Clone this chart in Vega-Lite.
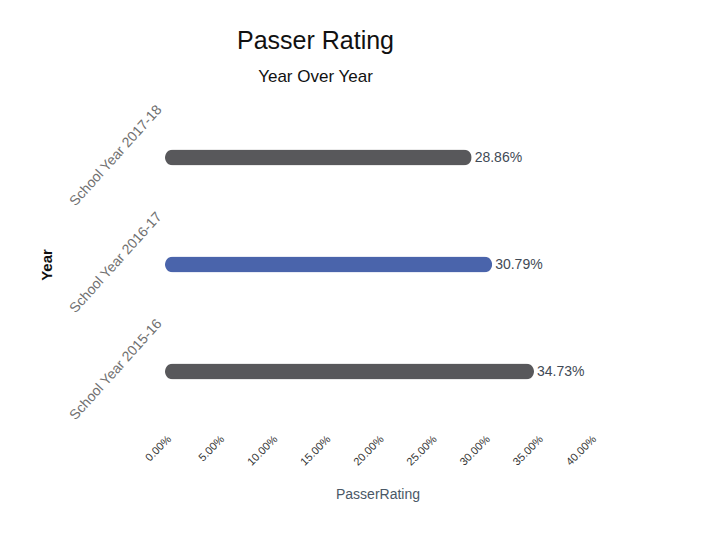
{
  "$schema": "https://vega.github.io/schema/vega-lite/v6.json",
  "width": 425,
  "height": 321,
  "autosize": {"type": "none"},
  "padding": {"left": 165, "top": 104, "right": 124, "bottom": 116},
  "background": "white",
  "view": {"stroke": null},
  "title": {
    "text": "Passer Rating",
    "subtitle": "Year Over Year",
    "anchor": "middle",
    "dx": -62,
    "offset": 17,
    "font": "Liberation Sans",
    "subtitleFont": "Liberation Sans",
    "fontSize": 25,
    "subtitleFontSize": 17,
    "fontWeight": "normal",
    "color": "#111111",
    "subtitleColor": "#111111",
    "subtitlePadding": 15
  },
  "data": {
    "values": [
      {"Year": "School Year 2017-18", "PasserRating": 0.2886},
      {"Year": "School Year 2016-17", "PasserRating": 0.3079},
      {"Year": "School Year 2015-16", "PasserRating": 0.3473}
    ]
  },
  "encoding": {
    "y": {
      "field": "Year",
      "type": "nominal",
      "sort": ["School Year 2017-18", "School Year 2016-17", "School Year 2015-16"],
      "axis": {
        "title": "Year",
        "titleFont": "Liberation Sans",
        "titleFontSize": 15,
        "titleFontWeight": "bold",
        "titleColor": "#111111",
        "titlePadding": 12,
        "labelAngle": -48,
        "labelAlign": "right",
        "labelBaseline": "middle",
        "labelOffset": -50,
        "labelPadding": 6,
        "labelFont": "Liberation Sans",
        "labelFontSize": 14,
        "labelColor": "#707070",
        "ticks": false,
        "domain": false,
        "grid": false
      }
    },
    "x": {
      "field": "PasserRating",
      "type": "quantitative",
      "scale": {"domain": [0, 0.4]},
      "axis": {
        "title": "PasserRating",
        "titleFont": "Liberation Sans",
        "titleFontSize": 14,
        "titleFontWeight": "normal",
        "titleColor": "#4a5866",
        "titlePadding": 20,
        "format": ".2%",
        "values": [0, 0.05, 0.1, 0.15, 0.2, 0.25, 0.3, 0.35, 0.4],
        "labelAngle": -45,
        "labelPadding": 8,
        "labelFont": "Liberation Sans",
        "labelFontSize": 11,
        "labelColor": "#333333",
        "ticks": false,
        "domain": false,
        "grid": false
      }
    }
  },
  "layer": [
    {
      "mark": {"type": "bar", "height": 16, "cornerRadius": 8},
      "encoding": {
        "color": {
          "field": "Year",
          "type": "nominal",
          "scale": {
            "domain": ["School Year 2017-18", "School Year 2016-17", "School Year 2015-16"],
            "range": ["#58585b", "#4a64ab", "#58585b"]
          },
          "legend": null
        }
      }
    },
    {
      "mark": {
        "type": "text",
        "align": "left",
        "baseline": "middle",
        "dx": 3,
        "font": "Liberation Sans",
        "fontSize": 14,
        "color": "#3f4a56"
      },
      "encoding": {
        "text": {"field": "PasserRating", "type": "quantitative", "format": ".2%"}
      }
    }
  ]
}
